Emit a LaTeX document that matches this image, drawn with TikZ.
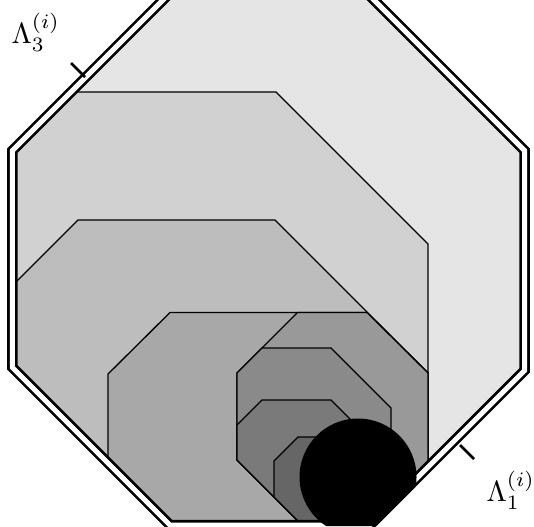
\documentclass[tikz,border=0pt]{standalone}
\usepackage{tikz}
\begin{document}
\begin{tikzpicture}[
    x=0.342pt,y=-0.342pt,
    level/.style={fill=#1,draw=black,line width=0.45pt,line join=miter},
    rim/.style={draw=black,line width=0.95pt,double=white,double distance=1.7pt,line join=miter},
    tickmark/.style={draw=black,line width=0.9pt},
    lab/.style={anchor=base west,inner sep=0pt}
  ]
    \useasboundingbox (0,0) rectangle (534,526);
    \clip (0,0) rectangle (534,526);
    % centre line of the double rim
    \coordinate (o1) at (178,-15);
    \coordinate (o2) at (359,-15);
    \coordinate (o3) at (524.5,150.5);
    \coordinate (o4) at (524.5,370.5);
    \coordinate (o5) at (370,525);
    \coordinate (o6) at (170,525);
    \coordinate (o7) at (12.3,367.3);
    \coordinate (o8) at (12.3,150.7);
    \fill[black!10] (o1)--(o2)--(o3)--(o4)--(o5)--(o6)--(o7)--(o8)--cycle;
    \begin{scope}
      \clip (o1)--(o2)--(o3)--(o4)--(o5)--(o6)--(o7)--(o8)--cycle;
      \path[level=black!18] (-50,92)--(276,92)--(428,244)--(428,600)--(-50,600)--cycle;
      \path[level=black!26] (-50,348)--(78,220)--(275,220)--(428,373)--(428,600)--(-50,600)--cycle;
      \path[level=black!34] (108,600)--(108,374)--(170,312.5)--(367,312.5)--(428,373)--(428,600)--cycle;
      \path[level=black!40] (237,460)--(237,373)--(297.5,312.5)--(367,312.5)--(428,373)--(428,651)--cycle;
      \path[level=black!46] (237,460)--(237,373)--(262,348)--(331,348)--(391,408)--(391,614)--cycle;
      \path[level=black!52] (237,460)--(237,425)--(262,400)--(331,400)--(391,460)--(391,614)--cycle;
      \path[level=black!60] (274,497)--(274,461)--(298,437)--(360,437)--(391,468)--(391,614)--cycle;
    \end{scope}
    \path[rim] (o1)--(o2)--(o3)--(o4)--(o5)--(o6)--(o7)--(o8)--cycle;
    % black disc, cut at the outer edge of the rim
    \begin{scope}
      \clip (0,0)--(534,0)--(534,368.4)--(376.4,526)--(0,526)--cycle;
      \fill[black] (358,477) circle[radius=58.5];
    \end{scope}
    % face marks
    \coordinate (t3) at (85,77);
    \coordinate (t1) at (460,445);
    \draw[tickmark] (t3)--++(-14,-14);
    \draw[tickmark] (t1)--++(14,14);
    \node[lab] (lam3) at (11,43.3) {$\Lambda_3^{(i)}$};
    \node[lab] (lam1) at (486,501.7) {$\Lambda_1^{(i)}$};
  \end{tikzpicture}
\end{document}
